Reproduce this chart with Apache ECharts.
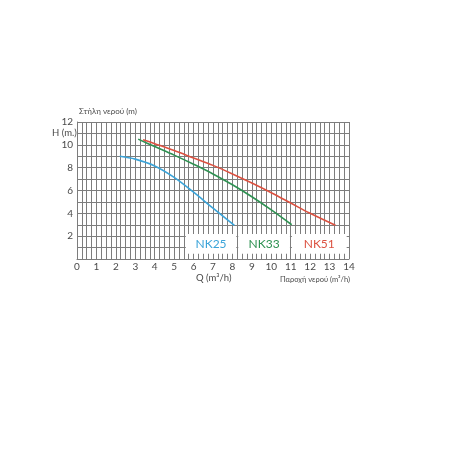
<!DOCTYPE html>
<html>
<head>
<meta charset="utf-8">
<script src="https://cdn.jsdelivr.net/npm/echarts@6/dist/echarts.min.js"></script>
<style>
  html, body { margin: 0; padding: 0; background: #fff; }
  #chart { width: 450px; height: 450px; }
</style>
</head>
<body>
<div id="chart"></div>
<script>
// pump curves: flow Q (m3/h) vs head H (m)
const nk25Q = [2.2, 3, 4, 5, 6, 7, 8.1]
const nk25H = [9.0, 8.75, 8.15, 7.15, 5.85, 4.45, 2.95]
const nk33Q = [3.15, 4, 5, 6, 7, 8, 9, 10, 11.05]
const nk33H = [10.5, 9.85, 9.1, 8.3, 7.45, 6.5, 5.45, 4.3, 3.0]
const nk51Q = [3.4, 4, 5, 6, 7, 8, 9, 10, 11, 12, 13.3]
const nk51H = [10.45, 10.1, 9.5, 8.85, 8.2, 7.45, 6.65, 5.8, 4.9, 4.0, 2.95]

const seriesNames = ['NK25', 'NK33', 'NK51']
const seriesColors = ['#3ba4d9', '#2e9152', '#dc5140']
// label boxes at the bottom of the grid: [x from, x to]
const boxX = [[5.6, 8.2], [8.3, 10.96], [11.06, 13.88]]
const boxY = [0.45, 2.2]

function pairs(xs, ys) {
  return xs.map((x, i) => [x, ys[i]])
}

const curves = [pairs(nk25Q, nk25H), pairs(nk33Q, nk33H), pairs(nk51Q, nk51H)]

const chart = echarts.init(document.getElementById('chart'))

const gridColor = '#7d7d7d'
const textColor = '#4a4a4a'
const font = 'Lato, "Open Sans", sans-serif'

chart.setOption({
  animation: false,
  grid: { left: 77, right: 101, top: 122, bottom: 191 },
  xAxis: {
    type: 'value',
    min: 0,
    max: 14,
    interval: 1,
    axisLine: { lineStyle: { color: gridColor, width: 1 } },
    axisTick: { show: false },
    axisLabel: { color: textColor, fontSize: 10, fontFamily: font, margin: 3 },
    splitLine: { show: true, lineStyle: { color: gridColor, width: 1 } },
    minorTick: { show: false, splitNumber: 4 },
    minorSplitLine: { show: true, lineStyle: { color: gridColor, width: 1 } }
  },
  yAxis: {
    type: 'value',
    min: 0,
    max: 12,
    interval: 1,
    axisLine: { show: true, lineStyle: { color: gridColor, width: 1 } },
    axisTick: { show: false },
    axisLabel: {
      color: textColor,
      fontSize: 10,
      fontFamily: font,
      margin: 4,
      formatter(v) {
        return v > 0 && v % 2 === 0 ? String(v) : ''
      }
    },
    splitLine: { show: true, lineStyle: { color: gridColor, width: 1 } }
  },
  graphic: [
    {
      type: 'text', left: 79, top: 107,
      style: { text: 'Στήλη νερού (m)', fill: textColor, fontSize: 8, fontFamily: font }
    },
    {
      type: 'text', left: 52, top: 128,
      style: { text: 'H (m.)', fill: textColor, fontSize: 9.5, fontFamily: font }
    },
    {
      type: 'text', left: 196, top: 273,
      style: { text: 'Q (m³/h)', fill: textColor, fontSize: 9.5, fontFamily: font }
    },
    {
      type: 'text', left: 280, top: 276,
      style: { text: 'Παροχή νερού (m³/h)', fill: textColor, fontSize: 7.5, fontFamily: font }
    }
  ],
  series: curves.map((data, i) => ({
    name: seriesNames[i],
    type: 'line',
    smooth: 0.35,
    symbol: 'none',
    data,
    lineStyle: { color: seriesColors[i], width: 1.6 },
    markArea: {
      silent: true,
      itemStyle: { color: '#ffffff', opacity: 1 },
      label: {
        show: true,
        position: 'inside',
        color: seriesColors[i],
        fontSize: 12,
        fontFamily: font
      },
      data: [[
        { name: seriesNames[i], coord: [boxX[i][0], boxY[1]] },
        { coord: [boxX[i][1], boxY[0]] }
      ]]
    }
  }))
})
</script>
</body>
</html>
